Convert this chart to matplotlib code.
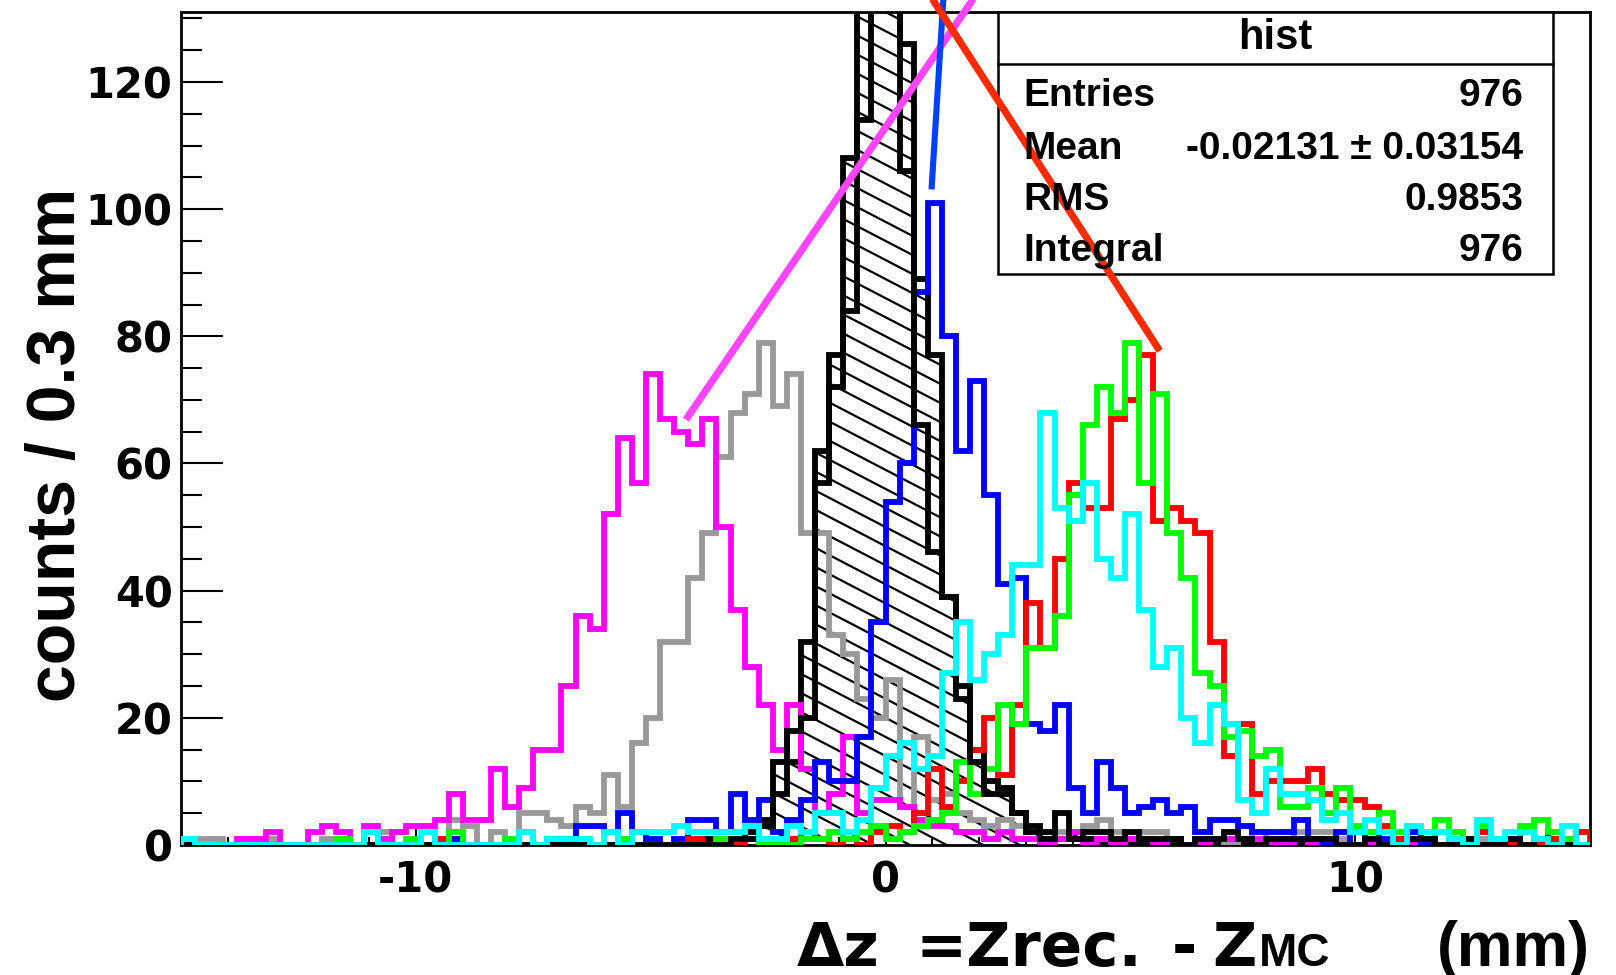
"""Delta-z resolution histograms (ROOT-style canvas) redrawn with matplotlib."""

from pathlib import Path

import matplotlib

matplotlib.use("Agg")
import matplotlib.pyplot as plt
import numpy as np
from matplotlib.patches import Rectangle, StepPatch
from matplotlib.ticker import MultipleLocator

OUTPUT_FILE = Path("out.png")

# 100 bins of 0.3 mm between -15 and 15 mm
BIN_EDGES = np.linspace(-15.0, 15.0, 101)

BLACK_HATCHED_COUNTS = [
    0, 0, 0, 0, 0, 0, 0, 0, 0, 0,
    0, 0, 0, 0, 0, 0, 0, 0, 0, 0,
    0, 0, 0, 0, 0, 0, 0, 0, 0, 0,
    0, 0, 0, 0, 0, 0, 0, 1, 0, 1,
    2, 4, 13, 13, 32, 62, 77, 108, 150, 160,
    150, 126, 89, 77, 39, 25, 15, 10, 9, 5,
    3, 2, 1, 2, 1, 0, 1, 0, 0, 0,
    0, 0, 0, 0, 0, 0, 0, 0, 0, 0,
    0, 0, 0, 0, 0, 0, 0, 0, 0, 0,
    0, 0, 0, 0, 0, 0, 0, 0, 0, 0,
]
BLACK_OPEN_COUNTS = [
    0, 0, 0, 0, 0, 0, 0, 0, 0, 0,
    0, 0, 0, 0, 0, 0, 0, 0, 0, 0,
    0, 0, 0, 0, 0, 0, 0, 0, 0, 0,
    0, 0, 0, 0, 0, 0, 0, 0, 0, 1,
    1, 3, 8, 18, 20, 57, 72, 84, 114, 140,
    140, 106, 66, 46, 39, 23, 13, 8, 8, 5,
    2, 1, 5, 1, 2, 2, 1, 2, 1, 1,
    1, 0, 1, 1, 2, 1, 0, 1, 1, 1,
    1, 1, 0, 0, 1, 0, 0, 1, 1, 0,
    0, 1, 0, 0, 1, 0, 1, 0, 0, 0,
]
GRAY_COUNTS = [
    0, 1, 1, 0, 0, 0, 1, 0, 0, 0,
    1, 1, 0, 2, 2, 0, 0, 0, 0, 4,
    3, 0, 2, 0, 5, 5, 4, 3, 6, 5,
    11, 6, 16, 20, 32, 32, 42, 49, 61, 68,
    71, 79, 69, 74, 49, 49, 33, 30, 23, 20,
    26, 6, 17, 7, 8, 5, 4, 3, 4, 3,
    2, 1, 2, 1, 3, 4, 2, 1, 2, 2,
    1, 0, 1, 1, 0, 1, 2, 1, 1, 2,
    2, 2, 1, 0, 0, 0, 0, 1, 0, 0,
    0, 0, 1, 0, 0, 0, 0, 0, 0, 0,
]
MAGENTA_COUNTS = [
    0, 0, 0, 0, 1, 1, 2, 0, 0, 2,
    3, 2, 0, 3, 1, 2, 3, 3, 4, 8,
    4, 4, 12, 6, 9, 15, 15, 25, 36, 34,
    52, 64, 57, 74, 67, 65, 63, 67, 50, 37,
    28, 22, 15, 22, 12, 5, 8, 17, 5, 7,
    7, 6, 4, 3, 3, 2, 2, 1, 2, 1,
    1, 0, 1, 2, 0, 1, 0, 1, 1, 0,
    1, 0, 0, 1, 1, 1, 1, 0, 0, 1,
    0, 0, 0, 0, 0, 0, 0, 0, 1, 0,
    0, 0, 0, 0, 1, 0, 0, 1, 1, 0,
]
BLUE_COUNTS = [
    0, 0, 0, 0, 0, 0, 0, 0, 0, 0,
    0, 0, 0, 0, 0, 0, 0, 0, 0, 1,
    0, 0, 0, 0, 0, 0, 1, 1, 3, 3,
    2, 5, 2, 1, 0, 1, 4, 4, 2, 8,
    4, 7, 2, 4, 7, 13, 10, 10, 17, 35,
    54, 60, 87, 101, 80, 62, 73, 55, 41, 42,
    19, 18, 22, 9, 5, 13, 9, 5, 6, 7,
    5, 6, 2, 4, 4, 3, 2, 2, 2, 4,
    1, 0, 2, 0, 2, 1, 1, 2, 0, 0,
    0, 0, 0, 0, 0, 0, 0, 2, 0, 0,
]
RED_COUNTS = [
    0, 0, 0, 0, 0, 0, 0, 0, 0, 0,
    0, 0, 0, 0, 0, 0, 0, 0, 1, 0,
    0, 0, 0, 0, 0, 0, 0, 0, 0, 0,
    0, 1, 0, 0, 0, 0, 1, 0, 0, 0,
    1, 0, 0, 1, 2, 1, 0, 1, 0, 2,
    3, 2, 5, 12, 6, 10, 15, 20, 11, 22,
    38, 31, 45, 57, 53, 53, 67, 70, 77, 51,
    53, 51, 49, 32, 14, 19, 8, 10, 10, 10,
    12, 8, 7, 7, 6, 3, 1, 1, 1, 0,
    1, 0, 2, 1, 0, 0, 0, 1, 0, 2,
]
GREEN_COUNTS = [
    0, 0, 0, 0, 0, 0, 0, 0, 0, 0,
    0, 1, 0, 0, 0, 0, 1, 0, 0, 2,
    0, 0, 0, 1, 2, 0, 0, 0, 0, 0,
    0, 1, 0, 0, 0, 0, 0, 0, 1, 1,
    1, 0, 0, 0, 1, 1, 2, 1, 2, 3,
    1, 2, 3, 4, 5, 13, 8, 12, 22, 19,
    31, 31, 36, 55, 66, 72, 68, 79, 57, 71,
    49, 42, 27, 25, 17, 18, 14, 15, 6, 6,
    9, 5, 9, 3, 2, 5, 2, 1, 1, 4,
    2, 1, 3, 1, 1, 3, 4, 2, 1, 0,
]
CYAN_COUNTS = [
    1, 0, 0, 0, 0, 0, 0, 0, 0, 0,
    0, 0, 0, 2, 0, 0, 0, 2, 0, 0,
    0, 0, 0, 0, 2, 0, 1, 1, 1, 0,
    2, 0, 2, 2, 2, 3, 2, 2, 2, 2,
    3, 1, 1, 3, 2, 5, 5, 2, 4, 9,
    14, 16, 12, 14, 27, 35, 26, 30, 33, 44,
    44, 68, 53, 51, 57, 45, 42, 52, 37, 28,
    31, 20, 16, 22, 19, 7, 5, 12, 8, 8,
    7, 4, 5, 2, 4, 2, 0, 3, 2, 2,
    1, 0, 4, 1, 2, 2, 1, 0, 3, 0,
]

# straight guide lines drawn from the peaks up out of the frame
MAGENTA_LINE_X = [-4.25, 2.51]
MAGENTA_LINE_Y = [66.9, 140.0]
BLUE_LINE_X = [0.98, 1.29]
BLUE_LINE_Y = [103.1, 140.0]
RED_LINE_X = [5.84, 0.39]
RED_LINE_Y = [77.7, 140.0]

STATS_TITLE = "hist"
STATS_LABELS = ["Entries", "Mean", "RMS", "Integral"]
STATS_VALUES = ["976", "-0.02131 \u00b1 0.03154", "0.9853", "976"]

TICK_FONT = "DejaVu Sans"
TITLE_FONT = "Liberation Sans"
HATCH_SLOPE = 3.84  # counts per mm, ROOT-like shallow hatch
HATCH_STEP = 3.0
LINE_WIDTH = 4.2

plt.rcParams["axes.unicode_minus"] = False


def draw_hatched_hist(axis, counts, edges):
    """Black histogram filled with shallow diagonal hatching."""

    outline = StepPatch(counts, edges, fill=True, facecolor="none", edgecolor="none")
    axis.add_patch(outline)
    xs = np.array([edges[0], edges[-1]])
    for offset in np.arange(-70.0, 200.0, HATCH_STEP):
        (line,) = axis.plot(xs, offset - HATCH_SLOPE * xs, color="black", linewidth=1.6, zorder=2)
        line.set_clip_path(outline)
    axis.stairs(counts, edges, color="black", linewidth=LINE_WIDTH, zorder=2)


def draw_stats_box(figure, axis):
    """ROOT statistics box in the upper right corner."""

    x0, x1 = 997.6 / 1616, 1553 / 1616
    y0, y1 = 1 - 274 / 975, 1 - 12.4 / 975
    sep = 1 - 64 / 975
    tf = figure.transFigure
    axis.add_patch(Rectangle((x0, y0), x1 - x0, y1 - y0, transform=tf, facecolor="white",
                             edgecolor="black", linewidth=1.8, zorder=6, clip_on=False))
    axis.plot([x0, x1], [sep, sep], transform=tf, color="black", linewidth=1.8, zorder=6, clip_on=False)
    axis.text((x0 + x1) / 2, 1 - 49 / 975, STATS_TITLE, transform=tf, ha="center", va="baseline",
              fontsize=30, fontweight="bold", family=TITLE_FONT, zorder=8)
    baselines = [106, 158.7, 210, 261]
    for label, value, base in zip(STATS_LABELS, STATS_VALUES, baselines):
        y = 1 - base / 975
        axis.text(1023.4 / 1616, y, label, transform=tf, ha="left", va="baseline",
                  fontsize=28, fontweight="bold", family=TITLE_FONT, zorder=8)
        axis.text(1523.3 / 1616, y, value, transform=tf, ha="right", va="baseline",
                  fontsize=28, fontweight="bold", family=TITLE_FONT, zorder=8)


def draw_axis_titles(figure):
    """Axis titles placed like the ROOT canvas."""

    base = 1 - 966 / 975
    wide = dict(fontsize=44, fontweight="bold", family=TICK_FONT, va="baseline", ha="left")
    figure.text(796.7 / 1616, base, "\u0394z", **wide)
    figure.text(915 / 1616, base, "=Zrec.", **wide)
    figure.text(1172 / 1616, base, "-", **wide)
    figure.text(1212 / 1616, base, "Z", **wide)
    figure.text(1259 / 1616, base, "MC", ha="left", fontsize=33, fontweight="bold",
                family=TITLE_FONT, va="baseline")
    figure.text(1590 / 1616, base, "(mm)", ha="right", fontsize=45, fontweight="bold",
                family=TITLE_FONT, va="baseline")
    figure.text(75 / 1616, 1 - 445 / 975, "counts / 0.3 mm", rotation=90, rotation_mode="anchor",
                ha="center", va="baseline", fontsize=49, fontweight="bold", family=TITLE_FONT)


def main():
    figure = plt.figure(figsize=(16.16, 9.75), dpi=100)
    axis = figure.add_axes([181 / 1616, 130 / 975, 1409 / 1616, 833 / 975])

    draw_hatched_hist(axis, BLACK_HATCHED_COUNTS, BIN_EDGES)
    for counts, color in [
        (GRAY_COUNTS, "#999999"),
        (MAGENTA_COUNTS, "#ff00ff"),
        (BLUE_COUNTS, "#0000ff"),
        (RED_COUNTS, "#ff0000"),
        (GREEN_COUNTS, "#00ff00"),
    ]:
        axis.stairs(counts, BIN_EDGES, color=color, linewidth=LINE_WIDTH, zorder=3)
    axis.stairs(BLACK_OPEN_COUNTS, BIN_EDGES, color="black", linewidth=LINE_WIDTH, zorder=4)
    axis.stairs(CYAN_COUNTS, BIN_EDGES, color="#00ffff", linewidth=LINE_WIDTH, zorder=5)

    axis.set_xlim(-15, 15)
    axis.set_ylim(0, 131)

    draw_stats_box(figure, axis)

    axis.plot(MAGENTA_LINE_X, MAGENTA_LINE_Y, color="#ff44ff", linewidth=5.2, clip_on=False,
              zorder=7, solid_capstyle="butt")
    axis.plot(BLUE_LINE_X, BLUE_LINE_Y, color="#0040ff", linewidth=4.4, clip_on=False,
              zorder=7, solid_capstyle="butt")
    axis.plot(RED_LINE_X, RED_LINE_Y, color="#ff2a00", linewidth=5.2, clip_on=False,
              zorder=7, solid_capstyle="butt")

    axis.set_xticks([-10, 0, 10])
    axis.xaxis.set_minor_locator(MultipleLocator(1))
    axis.set_yticks(range(0, 121, 20))
    axis.yaxis.set_minor_locator(MultipleLocator(5))
    axis.tick_params(axis="x", which="major", direction="in", length=12, width=1.5,
                     labelsize=30, pad=10.5, top=False)
    axis.tick_params(axis="x", which="minor", direction="in", length=6, width=1.5, top=False)
    axis.tick_params(axis="y", which="major", direction="in", length=30, width=1.5,
                     labelsize=30, pad=6, right=False)
    axis.tick_params(axis="y", which="minor", direction="in", length=15, width=1.5, right=False)
    for label in axis.get_xticklabels() + axis.get_yticklabels():
        label.set_family(TICK_FONT)
        label.set_fontweight("bold")
    for spine in axis.spines.values():
        spine.set_linewidth(2.0)

    draw_axis_titles(figure)

    figure.savefig(OUTPUT_FILE, dpi=100)
    plt.close(figure)


if __name__ == "__main__":
    main()
